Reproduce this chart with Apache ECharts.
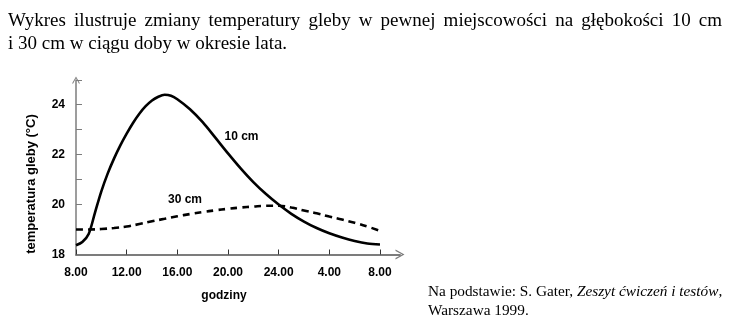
<!DOCTYPE html>
<html>
<head>
<meta charset="utf-8">
<script src="https://cdn.jsdelivr.net/npm/echarts@6/dist/echarts.min.js"></script>
<style>
  html, body { margin: 0; padding: 0; background: #fff; }
  #wrap { position: relative; width: 732px; height: 330px; overflow: hidden; }
  #chart { position: absolute; left: 0; top: 0; width: 732px; height: 330px; }
  .serif { position: absolute; font-family: "Liberation Serif", "Times New Roman", serif; color: #000; white-space: nowrap; }
  #intro1 { left: 8px; top: 9px; width: 714px; font-size: 19px; line-height: 22px; text-align: justify; text-align-last: justify; white-space: normal; }
  #intro2 { left: 8px; top: 32px; font-size: 19px; line-height: 22px; }
  #source { left: 428px; top: 281px; font-size: 15.3px; line-height: 19px; }
</style>
</head>
<body>
<div id="wrap">
  <div id="chart"></div>
  <div id="intro1" class="serif">Wykres ilustruje zmiany temperatury gleby w pewnej miejscowości na głębokości 10 cm</div>
  <div id="intro2" class="serif">i 30 cm w ciągu doby w okresie lata.</div>
  <div id="source" class="serif">Na podstawie: S. Gater, <i>Zeszyt ćwiczeń i testów</i>,<br>Warszawa 1999.</div>
</div>
<script>
// Hours of the day, counted on from 8.00 (32 = 8.00 the next morning)
const hours10cm = [8, 8.5, 9, 9.5, 10, 10.5, 11, 11.5, 12, 12.5, 13, 13.5, 14, 14.5, 15, 15.5,
                   16, 17, 18, 19, 20, 21, 22, 23, 24, 25, 26, 27, 28, 29, 30, 31, 32];
const hours30cm = [8, 9, 10, 11, 12, 13, 14, 15, 16, 17, 18, 19, 20, 21, 22, 23, 24, 25, 26, 27, 28, 29, 30, 31, 32];

// Soil temperature (°C) at a depth of 10 cm
const temp10cm = [18.37, 18.5, 18.82, 19.68, 20.53, 21.24, 21.84, 22.37, 22.84, 23.27, 23.64, 23.94, 24.17, 24.32, 24.4, 24.36,
                  24.22, 23.82, 23.3, 22.68, 22.05, 21.45, 20.9, 20.42, 20.0, 19.63, 19.32, 19.06, 18.85, 18.68, 18.54, 18.44, 18.4];

// Soil temperature (°C) at a depth of 30 cm
const temp30cm = [19.0, 19.0, 19.02, 19.06, 19.12, 19.22, 19.33, 19.43, 19.53, 19.62, 19.7, 19.77, 19.83,
                  19.88, 19.92, 19.95, 19.95, 19.88, 19.76, 19.65, 19.52, 19.4, 19.27, 19.12, 18.95];

// Clock labels shown under the ticks every 4 hours
const xTickLabels = ['8.00', '12.00', '16.00', '20.00', '24.00', '4.00', '8.00'];

const seriesLabels = ['10 cm', '30 cm'];
const yAxisTitle = 'temperatura gleby (°C)';
const xAxisTitle = 'godziny';

const axisGray = '#7c7c7c';
const labelFont = { fontFamily: '"Liberation Sans", Arial, sans-serif', fontWeight: 'bold', fontSize: 12, color: '#000' };

// open chevron used as the arrow head at the end of both axes
const chevron = 'path://M5,0 L10,9 L8.6,9 L5,2.4 L1.4,9 L0,9 Z';

const chart = echarts.init(document.getElementById('chart'), null, { renderer: 'canvas' });

const pairs = (xs, ys) => xs.map((x, i) => [x, ys[i]]);

chart.setOption({
  animation: false,
  backgroundColor: 'transparent',
  grid: { left: 76, right: 332, top: 80, bottom: 75.5, containLabel: false },
  xAxis: {
    type: 'value',
    min: 8,
    max: 33.58,
    interval: 4,
    splitLine: { show: false },
    axisLine: { show: true, lineStyle: { color: axisGray, width: 2 }, symbol: ['none', chevron], symbolSize: [10, 11], symbolOffset: [0, 0] },
    axisTick: { show: true, inside: true, length: 5, lineStyle: { color: '#333', width: 1 } },
    axisLabel: Object.assign({ margin: 12, formatter: v => xTickLabels[Math.round((v - 8) / 4)] || '' }, labelFont)
  },
  yAxis: {
    type: 'value',
    min: 18,
    max: 24.99,
    interval: 1,
    splitLine: { show: false },
    axisLine: { show: true, onZero: false, lineStyle: { color: axisGray, width: 1.5 }, symbol: ['none', chevron], symbolSize: [8, 9] },
    axisTick: { show: true, inside: true, length: 6, lineStyle: { color: axisGray, width: 1 } },
    axisLabel: Object.assign({ margin: 11, formatter: v => (Math.round(v) % 2 === 0 ? String(Math.round(v)) : '') }, labelFont)
  },
  series: [
    {
      name: seriesLabels[0],
      type: 'line',
      data: pairs(hours10cm, temp10cm),
      smooth: 0.3,
      showSymbol: false,
      lineStyle: { color: '#000', width: 2.6 },
      z: 3
    },
    {
      name: seriesLabels[1],
      type: 'line',
      data: pairs(hours30cm, temp30cm),
      smooth: 0.4,
      showSymbol: false,
      lineStyle: { color: '#000', width: 2.6, type: [7, 5] },
      z: 2
    }
  ],
  graphic: [
    { type: 'text', x: 31, y: 184, rotation: Math.PI / 2,
      style: { text: yAxisTitle, x: 0, y: 0, textAlign: 'center', textVerticalAlign: 'middle',
               font: 'bold 13px "Liberation Sans", Arial, sans-serif', fill: '#000' } },
    { type: 'text', x: 224, y: 296,
      style: { text: xAxisTitle, textAlign: 'center', textVerticalAlign: 'middle',
               font: 'bold 12px "Liberation Sans", Arial, sans-serif', fill: '#000' } },
    { type: 'text', x: 241.5, y: 137,
      style: { text: seriesLabels[0], textAlign: 'center', textVerticalAlign: 'middle',
               font: 'bold 12px "Liberation Sans", Arial, sans-serif', fill: '#000' } },
    { type: 'text', x: 185, y: 200,
      style: { text: seriesLabels[1], textAlign: 'center', textVerticalAlign: 'middle',
               font: 'bold 12px "Liberation Sans", Arial, sans-serif', fill: '#000' } }
  ]
});
</script>
</body>
</html>
